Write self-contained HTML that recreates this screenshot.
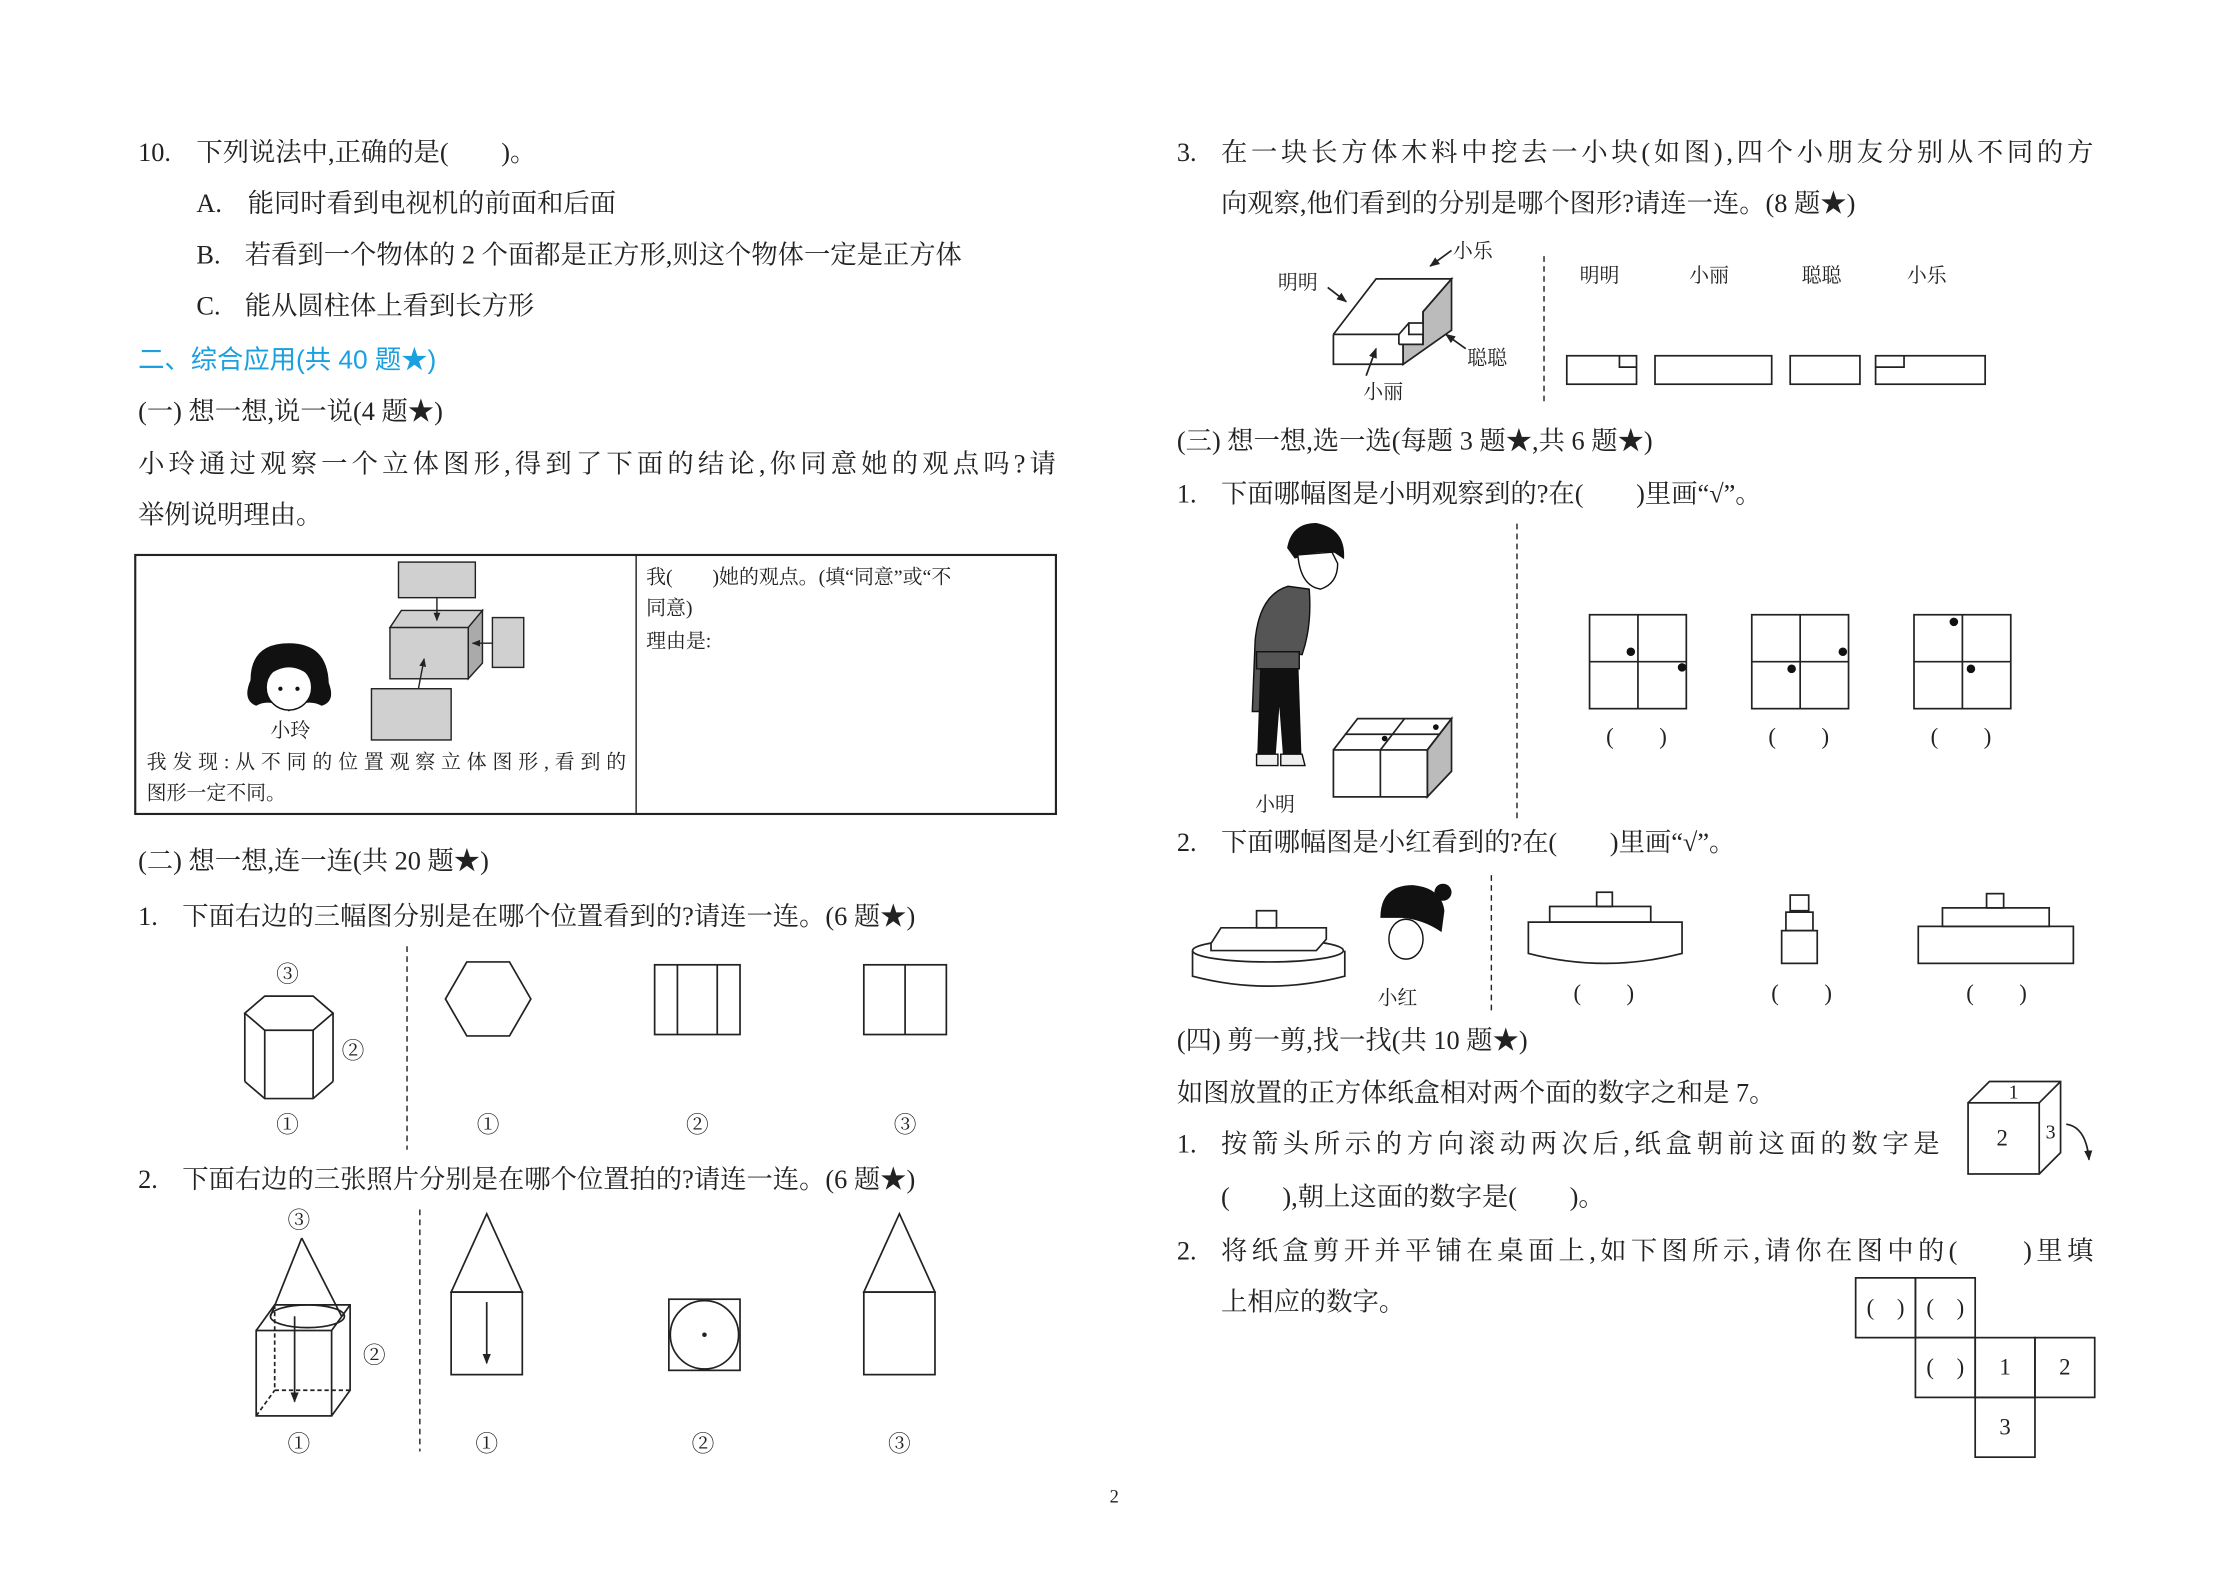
<!DOCTYPE html>
<html><head><meta charset="utf-8"><style>
html,body{margin:0;padding:0;background:#fff}
svg{display:block}
text{font-family:"Liberation Serif","Noto Serif CJK SC",serif;fill:#222}
.t{font-size:18.5px}
.s{font-size:14px}
.m{font-size:16px}
</style></head><body>
<svg width="2220" height="1571" viewBox="0 0 1560 1104" xmlns="http://www.w3.org/2000/svg">
<defs><marker id="ar" viewBox="0 0 10 10" refX="9" refY="5" markerWidth="6" markerHeight="6" orient="auto"><path d="M0,1 L10,5 L0,9z" fill="#222"/></marker></defs>
<text class="t" x="97" y="113">10.</text>
<text class="t" x="138" y="113">下列说法中,正确的是(　　)。</text>
<text class="t" x="138" y="149">A.</text><text class="t" x="174" y="149">能同时看到电视机的前面和后面</text>
<text class="t" x="138" y="185">B.</text><text class="t" x="172" y="185">若看到一个物体的 2 个面都是正方形,则这个物体一定是正方体</text>
<text class="t" x="138" y="221">C.</text><text class="t" x="172" y="221">能从圆柱体上看到长方形</text>
<text class="t" x="97" y="259" style="fill:#1aa0e0;font-family:'Liberation Sans','Noto Sans CJK SC',sans-serif">二、综合应用(共 40 题★)</text>
<text class="t" x="97" y="295">(一) 想一想,说一说(4 题★)</text>
<text class="t" x="97" y="332" textLength="645">小玲通过观察一个立体图形,得到了下面的结论,你同意她的观点吗?请</text>
<text class="t" x="97" y="368">举例说明理由。</text>
<rect x="95" y="390" width="647" height="182" fill="none" stroke="#222" stroke-width="1.5"/>
<line x1="447" y1="390" x2="447" y2="572" stroke="#222"/>
<text class="s" x="454" y="410">我(　　)她的观点。(填“同意”或“不</text>
<text class="s" x="454" y="432">同意)</text>
<text class="s" x="454" y="455">理由是:</text>
<text class="s" x="190" y="518">小玲</text>
<text class="s" x="103" y="540" textLength="337">我发现:从不同的位置观察立体图形,看到的</text>
<text class="s" x="103" y="562">图形一定不同。</text>
<g stroke="#222" stroke-width="1" fill="#d0d0d0">
<rect x="280" y="395" width="54" height="25"/>
<polygon points="274,441 282,429 339,429 329,441"/>
<polygon points="329,441 339,429 339,466 329,477" fill="#aaa"/>
<rect x="274" y="441" width="55" height="36"/>
<rect x="346" y="434" width="22" height="35"/>
<rect x="261" y="484" width="56" height="36"/>
</g>
<g stroke="#222" stroke-width="1" fill="none">
<line x1="307" y1="420" x2="307" y2="436" marker-end="url(#ar)"/>
<line x1="346" y1="452" x2="332" y2="452" marker-end="url(#ar)"/>
<line x1="294" y1="484" x2="298" y2="463" marker-end="url(#ar)"/>
</g>
<path d="M176,478 Q176,452 203,452 Q230,452 231,480 Q236,493 226,496 Q215,490 203,500 Q190,490 180,496 Q170,492 176,478z" fill="#111"/>
<ellipse cx="203" cy="483" rx="16" ry="16" fill="#fff" stroke="#111"/>
<path d="M187,476 Q203,462 219,476 L219,468 Q203,456 187,468z" fill="#111"/>
<circle cx="197" cy="484" r="1.5" fill="#111"/><circle cx="209" cy="484" r="1.5" fill="#111"/>
<text class="t" x="97" y="611">(二) 想一想,连一连(共 20 题★)</text>
<text class="t" x="97" y="650">1.</text><text class="t" x="128" y="650">下面右边的三幅图分别是在哪个位置看到的?请连一连。(6 题★)</text>
<g stroke="#222" stroke-width="1.2" fill="none">
<polygon points="172,712 186,700 220,700 234,712 220,724 186,724"/>
<line x1="172" y1="712" x2="172" y2="760"/><line x1="234" y1="712" x2="234" y2="760"/>
<line x1="186" y1="724" x2="186" y2="772"/><line x1="220" y1="724" x2="220" y2="772"/>
<polyline points="172,760 186,772 220,772 234,760"/>
<line x1="286" y1="665" x2="286" y2="808" stroke-dasharray="4,3" stroke-width="1"/>
<polygon points="313,702 328,676 358,676 373,702 358,728 328,728"/>
<rect x="460" y="678" width="60" height="49"/><line x1="476" y1="678" x2="476" y2="727"/><line x1="504" y1="678" x2="504" y2="727"/>
<rect x="607" y="678" width="58" height="49"/><line x1="636" y1="678" x2="636" y2="727"/>
</g>
<text class="m" x="202" y="690" text-anchor="middle">③</text>
<text class="m" x="248" y="744" text-anchor="middle">②</text>
<text class="m" x="202" y="796" text-anchor="middle">①</text>
<text class="m" x="343" y="796" text-anchor="middle">①</text>
<text class="m" x="490" y="796" text-anchor="middle">②</text>
<text class="m" x="636" y="796" text-anchor="middle">③</text>
<text class="t" x="97" y="835">2.</text><text class="t" x="128" y="835">下面右边的三张照片分别是在哪个位置拍的?请连一连。(6 题★)</text>
<g stroke="#222" stroke-width="1.2" fill="none">
<line x1="212" y1="870" x2="190" y2="925"/><line x1="212" y1="870" x2="240" y2="925"/>
<ellipse cx="216" cy="925" rx="26" ry="8"/>
<rect x="180" y="935" width="53" height="60"/>
<polyline points="180,935 193,917 246,917 246,977 233,995"/>
<line x1="233" y1="935" x2="246" y2="917"/>
<line x1="193" y1="917" x2="193" y2="977" stroke-dasharray="3,2"/><line x1="193" y1="977" x2="246" y2="977" stroke-dasharray="3,2"/><line x1="180" y1="995" x2="193" y2="977" stroke-dasharray="3,2"/>
<line x1="207" y1="925" x2="207" y2="985" marker-end="url(#ar)"/>
<line x1="295" y1="850" x2="295" y2="1020" stroke-dasharray="4,3" stroke-width="1"/>
<polygon points="342,853 317,908 367,908"/><rect x="317" y="908" width="50" height="58"/>
<line x1="342" y1="915" x2="342" y2="958" marker-end="url(#ar)"/>
<rect x="470" y="913" width="50" height="50"/><circle cx="495" cy="938" r="24"/>
<polygon points="632,853 607,908 657,908"/><rect x="607" y="908" width="50" height="58"/>
</g>
<circle cx="495" cy="938" r="1.6" fill="#222"/>
<text class="m" x="210" y="863" text-anchor="middle">③</text>
<text class="m" x="263" y="958" text-anchor="middle">②</text>
<text class="m" x="210" y="1020" text-anchor="middle">①</text>
<text class="m" x="342" y="1020" text-anchor="middle">①</text>
<text class="m" x="494" y="1020" text-anchor="middle">②</text>
<text class="m" x="632" y="1020" text-anchor="middle">③</text>
<text x="783" y="1056" text-anchor="middle" style="font-size:13px">2</text>

<text class="t" x="827" y="113">3.</text><text class="t" x="858" y="113" textLength="613">在一块长方体木料中挖去一小块(如图),四个小朋友分别从不同的方</text>
<text class="t" x="858" y="149">向观察,他们看到的分别是哪个图形?请连一连。(8 题★)</text>
<g stroke="#222" stroke-width="1.2" fill="none">
<polygon points="1000,219 1020,196 1020,232 986,256 986,242 1000,242" fill="#bbb"/>
<polyline points="937,235 967,196 1020,196 1000,219 1000,242"/>
<polyline points="937,235 983,235 983,242"/>
<polyline points="983,242 986,242 986,256 937,256 937,235"/>
<rect x="990" y="227" width="10" height="8" fill="#fff"/>
<line x1="983" y1="235" x2="990" y2="227"/>
<line x1="1085" y1="180" x2="1085" y2="285" stroke-dasharray="4,3" stroke-width="1"/>
<line x1="933" y1="202" x2="946" y2="212" marker-end="url(#ar)"/>
<line x1="1020" y1="176" x2="1005" y2="187" marker-end="url(#ar)"/>
<line x1="1030" y1="245" x2="1016" y2="235" marker-end="url(#ar)"/>
<line x1="960" y1="264" x2="967" y2="245" marker-end="url(#ar)"/>
<rect x="1101" y="250" width="49" height="20"/><polyline points="1138,250 1138,258 1150,258"/>
<rect x="1163" y="250" width="82" height="20"/>
<rect x="1258" y="250" width="49" height="20"/>
<rect x="1318" y="250" width="77" height="20"/><polyline points="1318,258 1338,258 1338,250"/>
</g>
<text class="s" x="898" y="203">明明</text>
<text class="s" x="1021" y="181">小乐</text>
<text class="s" x="1031" y="256">聪聪</text>
<text class="s" x="958" y="280">小丽</text>
<text class="s" x="1110" y="198">明明</text>
<text class="s" x="1187" y="198">小丽</text>
<text class="s" x="1266" y="198">聪聪</text>
<text class="s" x="1340" y="198">小乐</text>
<text class="t" x="827" y="316">(三) 想一想,选一选(每题 3 题★,共 6 题★)</text>
<text class="t" x="827" y="353">1.</text><text class="t" x="858" y="353">下面哪幅图是小明观察到的?在(　　)里画“√”。</text>
<g stroke="#111" stroke-width="1">
<path d="M905,385 Q908,368 925,368 Q945,372 944,392 L938,388 Q925,386 910,392z" fill="#111"/>
<path d="M912,390 Q914,412 928,414 Q940,410 940,396 L936,388z" fill="#fff"/>
<path d="M905,412 Q885,418 882,450 L880,500 L890,500 L896,458 L915,460 Q922,440 920,414z" fill="#555"/>
<rect x="883" y="458" width="30" height="12" fill="#555"/>
<path d="M886,470 L912,470 L914,530 L902,530 L899,490 L896,530 L884,530z" fill="#111"/>
<path d="M883,530 L898,530 L898,538 L883,538z M900,530 L915,530 L917,538 L900,538z" fill="#eee"/>
</g>
<g stroke="#222" stroke-width="1.2" fill="none">
<polygon points="1003,527 1020,505 1020,542 1003,560" fill="#bbb"/>
<polyline points="937,527 954,505 1020,505 1003,527"/>
<rect x="937" y="527" width="66" height="33" fill="#fff"/>
<line x1="970" y1="527" x2="970" y2="560"/>
<line x1="945" y1="516" x2="1012" y2="516"/><line x1="987" y1="505" x2="970" y2="527"/>
<line x1="1066" y1="368" x2="1066" y2="575" stroke-dasharray="4,3" stroke-width="1"/>
<rect x="1117" y="432" width="68" height="66"/><line x1="1151" y1="432" x2="1151" y2="498"/><line x1="1117" y1="465" x2="1185" y2="465"/>
<rect x="1231" y="432" width="68" height="66"/><line x1="1265" y1="432" x2="1265" y2="498"/><line x1="1231" y1="465" x2="1299" y2="465"/>
<rect x="1345" y="432" width="68" height="66"/><line x1="1379" y1="432" x2="1379" y2="498"/><line x1="1345" y1="465" x2="1413" y2="465"/>
</g>
<g fill="#111"><circle cx="1146" cy="458" r="3"/><circle cx="1182" cy="469" r="3"/><circle cx="1259" cy="470" r="3"/><circle cx="1295" cy="458" r="3"/><circle cx="1373" cy="437" r="3"/><circle cx="1385" cy="470" r="3"/><circle cx="973" cy="519" r="2"/><circle cx="1009" cy="511" r="2"/></g>
<text class="m" x="1150" y="523" text-anchor="middle">(　　)</text>
<text class="m" x="1264" y="523" text-anchor="middle">(　　)</text>
<text class="m" x="1378" y="523" text-anchor="middle">(　　)</text>
<text class="s" x="882" y="570">小明</text>
<text class="t" x="827" y="598">2.</text><text class="t" x="858" y="598">下面哪幅图是小红看到的?在(　　)里画“√”。</text>
<g stroke="#222" stroke-width="1.2" fill="none">
<path d="M838,668 L838,686 Q891,700 945,686 L945,668" fill="#fff"/>
<ellipse cx="891" cy="668" rx="53" ry="8" fill="#fff"/>
<polygon points="851,663 858,652 932,652 932,660 925,668 851,668" fill="#fff"/>
<rect x="883" y="640" width="14" height="12" fill="#fff"/>
<line x1="1048" y1="615" x2="1048" y2="710" stroke-dasharray="4,3" stroke-width="1"/>
<rect x="1122" y="627" width="11" height="10"/><rect x="1089" y="637" width="71" height="11"/>
<path d="M1074,648 L1182,648 L1182,670 Q1128,684 1074,670z"/>
<rect x="1258" y="629" width="13" height="11"/><rect x="1255" y="641" width="19" height="13"/><rect x="1252" y="654" width="25" height="23"/>
<rect x="1396" y="628" width="12" height="10"/><rect x="1365" y="638" width="75" height="13"/><rect x="1348" y="651" width="109" height="26"/>
</g>
<path d="M970,645 Q970,622 993,622 Q1013,624 1015,640 L1013,655 Q1000,646 985,645z" fill="#111"/>
<circle cx="1014" cy="627" r="6" fill="#111"/>
<ellipse cx="988" cy="660" rx="12" ry="14" fill="#fff" stroke="#111"/>
<text class="s" x="968" y="706">小红</text>
<text class="m" x="1127" y="703" text-anchor="middle">(　　)</text>
<text class="m" x="1266" y="703" text-anchor="middle">(　　)</text>
<text class="m" x="1403" y="703" text-anchor="middle">(　　)</text>
<text class="t" x="827" y="737">(四) 剪一剪,找一找(共 10 题★)</text>
<text class="t" x="827" y="774">如图放置的正方体纸盒相对两个面的数字之和是 7。</text>
<text class="t" x="827" y="810">1.</text><text class="t" x="858" y="810" textLength="505">按箭头所示的方向滚动两次后,纸盒朝前这面的数字是</text>
<text class="t" x="858" y="847">(　　),朝上这面的数字是(　　)。</text>
<text class="t" x="827" y="885">2.</text><text class="t" x="858" y="885" textLength="613">将纸盒剪开并平铺在桌面上,如下图所示,请你在图中的(　　)里填</text>
<text class="t" x="858" y="921">上相应的数字。</text>
<g stroke="#222" stroke-width="1.2" fill="none">
<rect x="1383" y="775" width="50" height="50"/>
<polyline points="1383,775 1398,760 1448,760 1448,810 1433,825"/><line x1="1433" y1="775" x2="1448" y2="760"/>
<path d="M1452,790 Q1466,792 1468,815" marker-end="url(#ar)"/>
<rect x="1304" y="898" width="42" height="42"/><rect x="1346" y="898" width="42" height="42"/>
<rect x="1346" y="940" width="42" height="42"/><rect x="1388" y="940" width="42" height="42"/><rect x="1430" y="940" width="42" height="42"/>
<rect x="1388" y="982" width="42" height="42"/>
</g>
<text class="s" x="1415" y="772" text-anchor="middle">1</text>
<text class="m" x="1407" y="805" text-anchor="middle">2</text>
<text class="s" x="1441" y="800" text-anchor="middle">3</text>
<text class="m" x="1325" y="924" text-anchor="middle">(　)</text>
<text class="m" x="1367" y="924" text-anchor="middle">(　)</text>
<text class="m" x="1367" y="966" text-anchor="middle">(　)</text>
<text class="m" x="1409" y="966" text-anchor="middle">1</text>
<text class="m" x="1451" y="966" text-anchor="middle">2</text>
<text class="m" x="1409" y="1008" text-anchor="middle">3</text>
</svg>
</body></html>
